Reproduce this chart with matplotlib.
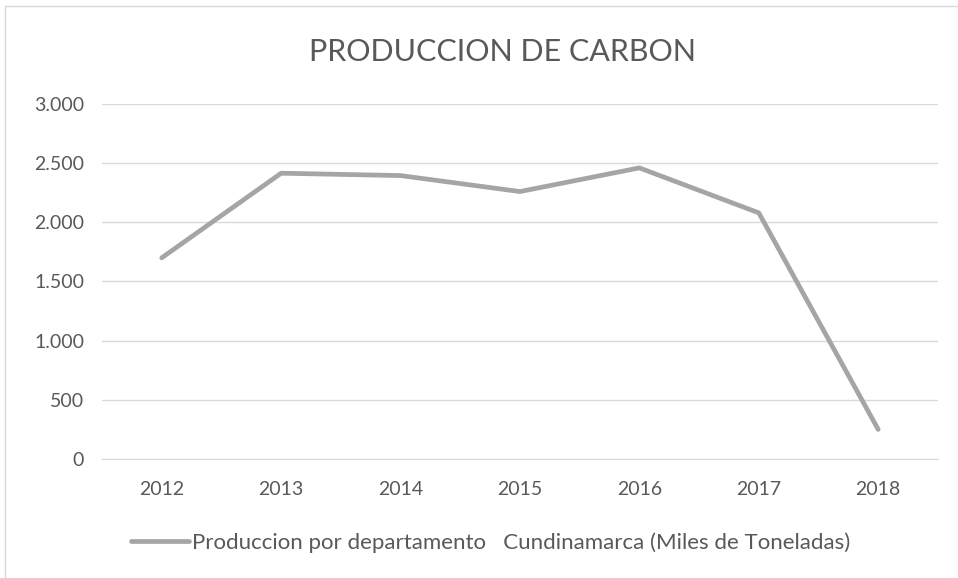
import matplotlib.pyplot as plt
from matplotlib.ticker import FuncFormatter
from matplotlib.patches import Rectangle

years = ['2012', '2013', '2014', '2015', '2016', '2017', '2018']
produccion = [1700, 2415, 2395, 2260, 2460, 2080, 250]
serie = 'Produccion por departamento   Cundinamarca (Miles de Toneladas)'

plt.rcParams['font.family'] = ['Lato', 'DejaVu Sans']

fig = plt.figure(figsize=(9.58, 5.78), dpi=100)
ax = fig.add_axes([0.1065, 0.2059, 0.8725, 0.6142])

x = range(len(years))
ax.plot(x, produccion, color='#A5A5A5', lw=3.4, solid_capstyle='round',
        solid_joinstyle='round', label=serie)

ax.set_xlim(-0.5, len(years) - 0.5)
ax.set_ylim(0, 3000)
ax.set_yticks(range(0, 3001, 500))
ax.yaxis.set_major_formatter(FuncFormatter(lambda v, p: f'{int(v):,}'.replace(',', '.')))
ax.set_xticks(list(x))
ax.set_xticklabels(years)

ax.grid(axis='y', color='#D9D9D9', lw=1)
ax.set_axisbelow(True)
for s in ['top', 'right', 'left']:
    ax.spines[s].set_visible(False)
ax.spines['bottom'].set_color('#D9D9D9')
ax.tick_params(length=0, labelsize=14, colors='#595959', pad=16)
ax.tick_params(axis='y', pad=13)

fig.text(0.525, 0.91, 'PRODUCCION DE CARBON', ha='center', va='center',
         fontsize=22, color='#595959')

fig.legend(loc='center', bbox_to_anchor=(0.512, 0.061), frameon=False,
           fontsize=16, labelcolor='#595959', handlelength=2.6, handletextpad=0.15)

# marco exterior del grafico
fig.patches.append(Rectangle((0.005, -0.01), 1.2, 1.0, transform=fig.transFigure,
                             fill=False, edgecolor='#D9D9D9', lw=1))

fig.savefig('out.png', dpi=100)
